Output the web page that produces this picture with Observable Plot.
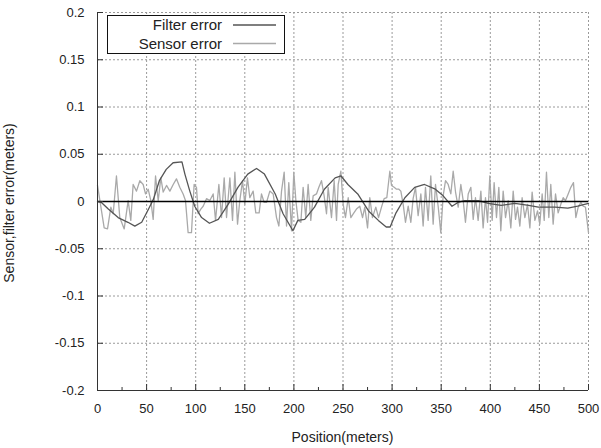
<!DOCTYPE html>
<html><head><meta charset="utf-8">
<script src="https://cdn.jsdelivr.net/npm/d3@7"></script>
<script src="https://cdn.jsdelivr.net/npm/@observablehq/plot@0.6"></script>
<style>body{margin:0;background:#fff}</style>
</head><body><div id="chart"></div>
<script>
const xTicks = [0,50,100,150,200,250,300,350,400,450,500];
const xMinor = [25,75,125,175,225,275,325,375,425,475];
const yTicks = [-0.2,-0.15,-0.1,-0.05,0,0.05,0.1,0.15,0.2];
const xTitle = "Position(meters)";
const yTitle = "Sensor,filter error(meters)";
const seriesNames = ["Filter error","Sensor error"];

const filterX = [0,4,11,21,31,38,45,52,57,63,70,77,86,89,94,99,106,114,123,133,143,153,162,170,181,189,199,204,211,221,231,242,248,255,265,276,286,294,298,304,313,323,333,344,352,361,367,374,388,398,411,425,439,449,466,479,489,500];
const filterY = [0,-0.001,-0.008,-0.017,-0.022,-0.026,-0.022,-0.008,0.0025,0.022,0.034,0.041,0.042,0.029,0.011,-0.005,-0.017,-0.023,-0.019,-0.003,0.015,0.029,0.035,0.029,0.008,-0.013,-0.031,-0.020,-0.019,-0.006,0.013,0.025,0.027,0.018,0.008,-0.010,-0.020,-0.027,-0.027,-0.012,0.004,0.015,0.018,0.013,0.006,-0.005,-0.001,0.001,0.001,-0.002,-0.004,-0.002,-0.004,-0.006,-0.006,-0.007,-0.005,-0.002];

const sensorX = [
0,6.8,10.2,13.6,16.0,19.3,22.7,27.2,31.2,33.9,
36.3,39.7,43.1,46.5,48.9,51.6,54.3,56.7,59.1,61.8,
64.5,66.9,70.3,73.7,77.1,80.4,83.8,87.2,89.6,92.3,
95.7,98.4,100.8,102.5,105.2,107.6,111.0,114.4,117.8,120.2,
123.6,126.3,129.0,131.4,134.8,137.5,139.9,142.6,144.9,147.7,
150.0,152.7,155.1,158.5,161.2,164.6,167.0,169.7,172.1,175.5,
178.9,182.3,184.7,187.4,190.1,192.5,194.8,197.6,199.9,202.0,
204.3,207.1,209.4,212.1,214.5,217.2,219.6,223.0,225.4,228.1,
230.8,233.2,234.9,238.3,241.0,243.4,245.1,247.8,250.2,252.5,
255.3,258.0,260.4,263.7,267.1,269.9,272.2,275.0,277.3,280.0,
283.4,286.2,289.2,291.9,294.6,297.7,299.4,302.1,304.5,306.9,
308.9,311.3,313.6,316.4,319.1,321.4,323.8,326.5,329.3,331.6,
334.0,336.7,339.4,341.8,344.2,346.9,349.6,352.0,354.4,357.1,
359.8,362.2,364.6,367.3,370.0,372.4,374.7,377.5,380.2,382.6,
384.9,387.6,390.4,392.7,395.1,397.2,399.5,401.9,403.9,406.3,
408.7,410.7,413.1,415.5,418.2,420.9,423.3,425.7,427.7,430.1,
432.4,435.2,437.9,440.3,442.6,445.4,448.1,450.4,452.8,454.9,
457.2,459.6,461.6,464.0,466.4,469.1,471.8,474.2,476.6,479.3,
482.0,484.7,487.1,489.5,492.2,494.6,496.9,500];
const sensorY = [
0.017,-0.028,-0.029,-0.006,-0.013,0.027,-0.017,-0.029,0.001,-0.020,
0.018,0.011,0.022,0.018,0.008,0.013,0.001,-0.019,0.027,0.001,
0.025,0.010,0.017,0.011,0.018,0.024,0.015,0.008,0.001,-0.033,
-0.033,0.018,0.015,-0.013,-0.008,-0.005,0.003,0.001,0.008,-0.020,
0.018,-0.017,0.025,-0.017,0.025,-0.020,0.031,-0.024,0.001,0.022,
-0.003,0.025,0.004,0.011,-0.012,-0.012,0.008,-0.001,-0.001,0.011,
0.008,-0.017,-0.026,0.011,0.031,-0.026,0.020,-0.031,0.031,0.001,
-0.020,-0.022,0.015,-0.017,0.018,-0.020,0.006,0.008,0.015,0.022,
0.006,-0.013,0.015,-0.017,0.022,-0.020,0.018,0.032,-0.003,-0.017,
0.004,-0.017,-0.013,-0.008,-0.005,-0.017,-0.006,-0.028,0.004,-0.017,
-0.006,-0.017,-0.006,0.003,0.004,0.032,0.017,0.015,0.013,0.013,
0.011,-0.003,-0.022,-0.005,-0.022,0.003,0.015,-0.015,0.008,-0.026,
0.015,-0.020,0.027,-0.024,0.018,-0.005,-0.033,0.006,0.022,0.018,
0.008,0.032,0.010,-0.006,0.018,0.001,-0.022,0.008,0.015,-0.019,
0.004,-0.020,0.011,-0.028,0.004,-0.022,0.027,-0.020,0.020,-0.017,
0.015,-0.031,0.011,-0.017,0.001,-0.028,0.011,-0.019,-0.006,-0.026,
0.004,-0.017,-0.003,-0.028,0.010,-0.020,-0.010,-0.024,0.008,-0.020,
0.031,-0.017,0.018,-0.024,0.008,-0.012,-0.003,0.004,0.001,0.008,
0.015,0.020,-0.017,-0.006,-0.001,-0.005,-0.006,-0.033];

const W = 601, H = 448, mL = 97, mR = 13, mT = 12, mB = 58;
const innerH = H - mT - mB, innerW = W - mL - mR;
const fmt = d => d === 0 ? "0" : String(Math.round(d * 100) / 100);
const filter = filterX.map((x, i) => ({x, y: filterY[i]}));
const sensor = sensorX.map((x, i) => ({x, y: sensorY[i]}));
const gridStyle = {stroke: "#9a9a9a", strokeOpacity: 1, strokeDasharray: "2,2", strokeWidth: 1};

const chart = Plot.plot({
  width: W, height: H,
  marginLeft: mL, marginRight: mR, marginTop: mT, marginBottom: mB,
  style: {fontFamily: "'Liberation Sans', Arial, sans-serif", fontSize: "13px", color: "#222", background: "#fff"},
  x: {domain: [0, 500]},
  y: {domain: [-0.2, 0.2]},
  marks: [
    Plot.gridX(xTicks, gridStyle),
    Plot.gridY(yTicks, gridStyle),
    Plot.line(sensor, {x: "x", y: "y", stroke: "#a9a9a9", strokeWidth: 1.3}),
    Plot.line(filter, {x: "x", y: "y", stroke: "#555", strokeWidth: 1.3}),
    Plot.ruleY([0], {stroke: "#000", strokeWidth: 1.6}),
    Plot.ruleX([0], {stroke: "#333", strokeWidth: 1}),
    Plot.ruleY([-0.2], {stroke: "#333", strokeWidth: 1}),
    Plot.tickX(xTicks, {x: d => d, insetTop: innerH - 6, stroke: "#333"}),
    Plot.tickX(xMinor, {x: d => d, insetTop: innerH - 3, stroke: "#333"}),
    Plot.tickY(yTicks, {y: d => d, insetRight: innerW - 6, stroke: "#333"}),
    Plot.axisX(xTicks, {tickSize: 0, tickPadding: 13, label: null}),
    Plot.axisY(yTicks, {tickSize: 0, tickPadding: 13, tickFormat: fmt, label: null})
  ]
});
document.getElementById("chart").appendChild(chart);

const svg = d3.select(chart);
const font = "'Liberation Sans', Arial, sans-serif";
svg.append("text").attr("x", mL + innerW / 2).attr("y", 442)
  .attr("text-anchor", "middle").attr("font-family", font).attr("font-size", 14).attr("fill", "#222")
  .text(xTitle);
svg.append("text").attr("transform", "translate(14,203) rotate(-90)")
  .attr("text-anchor", "middle").attr("font-family", font).attr("font-size", 14).attr("fill", "#222")
  .text(yTitle);

const lg = svg.append("g");
lg.append("rect").attr("x", 107.5).attr("y", 15.5).attr("width", 177).attr("height", 38)
  .attr("fill", "#fff").attr("stroke", "#111").attr("stroke-width", 1);
const legendColors = ["#555", "#a9a9a9"];
seriesNames.forEach((name, i) => {
  const cy = 25 + i * 18.5;
  lg.append("text").attr("x", 222).attr("y", cy + 5).attr("text-anchor", "end")
    .attr("font-family", font).attr("font-size", 15).attr("fill", "#222").text(name);
  lg.append("line").attr("x1", 233).attr("x2", 276).attr("y1", cy).attr("y2", cy)
    .attr("stroke", legendColors[i]).attr("stroke-width", 1.3);
});
</script>
</body></html>
